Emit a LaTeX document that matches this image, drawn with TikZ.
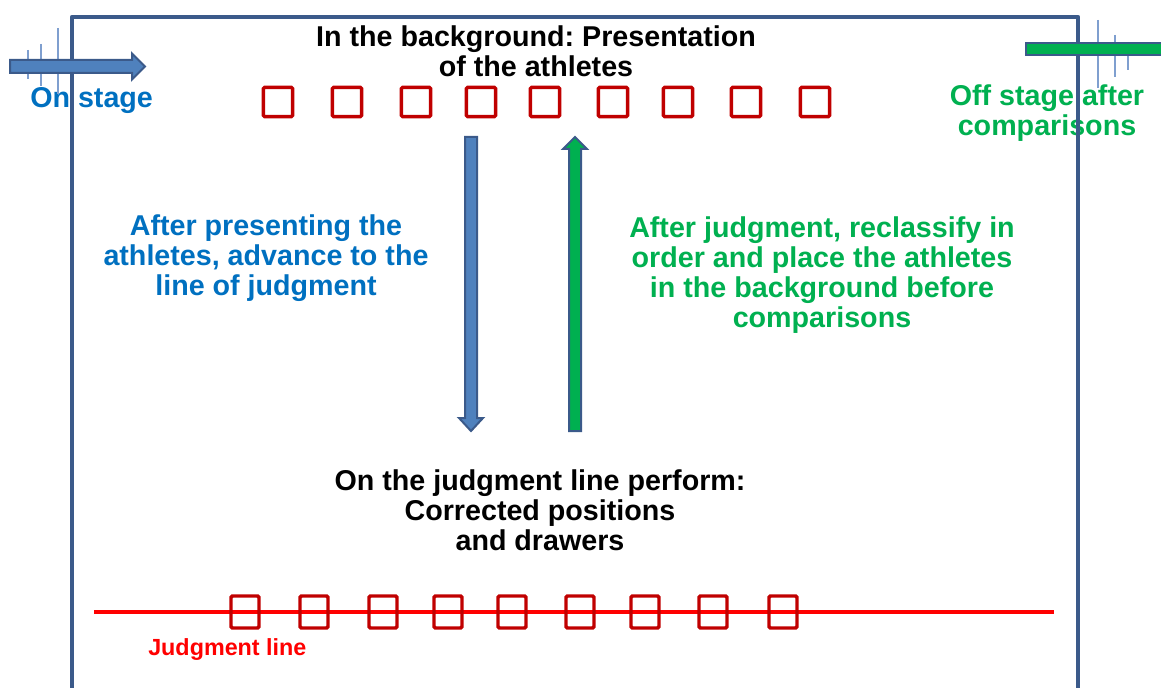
\documentclass[tikz,border=0pt]{standalone}
\usepackage{fontspec}
\setmainfont{Liberation Sans}
\usetikzlibrary{calc,positioning}
\frenchspacing

\definecolor{stageblue}{HTML}{3B5A8A}
\definecolor{arrowblue}{HTML}{4F81BD}
\definecolor{tickblue}{HTML}{7F9FCF}
\definecolor{textblue}{HTML}{0070C0}
\definecolor{textgreen}{HTML}{00B050}
\definecolor{seatred}{HTML}{C00000}
\definecolor{linered}{HTML}{FF0000}

\begin{document}
\begin{tikzpicture}[
  x=0.75pt, y=-0.75pt,
  caption/.style={font=\fontsize{21.5}{22.5}\selectfont\bfseries, align=center, inner sep=0pt},
  seat/.style={rectangle, draw=seatred, line width=2.6pt, rounded corners=1pt, minimum width=22pt, minimum height=22pt, inner sep=0pt},
  lineseat/.style={seat, minimum width=21pt, minimum height=24pt},
  blockarrow/.style={draw=stageblue, line width=1.5pt, line join=miter},
  tick/.style={draw=tickblue, line width=1.2pt}
]
  \clip (0,0) rectangle (1161,688);

  % texts
  \node (bg) [caption] at (536,51) {In the background: Presentation\\of the athletes};
  \node (on) [caption, text=textblue, anchor=west] at (30,101) {On stage};
  \node (off) [caption, text=textgreen] at (1047,113) {Off stage after\\comparisons};
  \node (adv) [caption, text=textblue] at (266,258) {After presenting the\\athletes, advance to the\\line of judgment};
  \node (recl) [caption, text=textgreen] at (822,275) {After judgment, reclassify in\\order and place the athletes\\in the background before\\comparisons};
  \node (perf) [caption] at (540,510) {On the judgment line perform:\\Corrected positions\\and drawers};
  \node (jl) [caption, text=linered, font=\fontsize{17.5}{20}\selectfont\bfseries, anchor=west] at (148,650) {Judgment line};

  % stage
  \draw[stageblue, line width=3.4pt, line join=round] (72,700) -- (72,17) -- (1078,17) -- (1078,700);

  % entry and exit
  \draw[tick] (28,50) -- (28,79);
  \draw[tick] (41,44) -- (41,86);
  \draw[tick] (58,28) -- (58,94);
  \draw[tick] (1098,20) -- (1098,88);
  \draw[tick] (1115,35) -- (1115,77);
  \draw[tick] (1128,42) -- (1128,70);

  \coordinate (in tail) at (10,66.5);
  \coordinate (in tip) at (145,66.5);
  \draw[blockarrow, fill=arrowblue] ($(in tail)+(0,-6.5)$) -- ($(in tip)+(-13,-6.5)$) -- ($(in tip)+(-13,-13)$)
    -- (in tip) -- ($(in tip)+(-13,13)$) -- ($(in tip)+(-13,6.5)$) -- ($(in tail)+(0,6.5)$) -- cycle;
  \coordinate (out tail) at (1026,49);
  \draw[blockarrow, fill=textgreen] ($(out tail)+(0,-6)$) rectangle ($(out tail)+(140,6)$);

  % seats
  \foreach \x [count=\i] in {278,347,416,481,545,613,678,746,815}
    \node (top\i) [seat] at (\x,102) {};
  \draw[linered, line width=3pt] (94,612) -- (1054,612);
  \foreach \x [count=\i] in {245,314,383,448,512,580,645,713,783}
    \node (bot\i) [lineseat] at (\x,612) {};

  % moves
  \coordinate (dn top) at (471,137);
  \coordinate (dn tip) at (471,431);
  \draw[blockarrow, fill=arrowblue] ($(dn top)+(-6,0)$) -- ($(dn tip)+(-6,-13)$) -- ($(dn tip)+(-12,-13)$)
    -- (dn tip) -- ($(dn tip)+(12,-13)$) -- ($(dn tip)+(6,-13)$) -- ($(dn top)+(6,0)$) -- cycle;
  \coordinate (up foot) at (575,431);
  \coordinate (up tip) at (575,137);
  \draw[blockarrow, fill=textgreen] ($(up foot)+(-6,0)$) -- ($(up tip)+(-6,12)$) -- ($(up tip)+(-12,12)$)
    -- (up tip) -- ($(up tip)+(12,12)$) -- ($(up tip)+(6,12)$) -- ($(up foot)+(6,0)$) -- cycle;
\end{tikzpicture}
\end{document}
